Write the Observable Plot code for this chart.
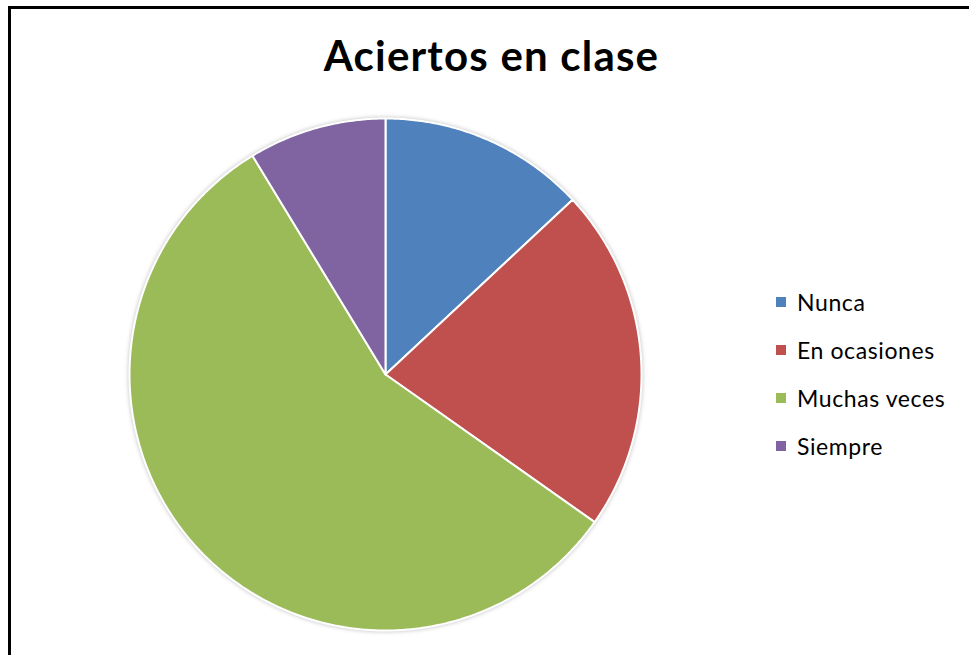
<!DOCTYPE html>
<html>
<head>
<meta charset="utf-8">
<script src="https://cdn.jsdelivr.net/npm/d3@7"></script>
<script src="https://cdn.jsdelivr.net/npm/@observablehq/plot@0.6"></script>
<style>
  html, body { margin: 0; padding: 0; background: #fff; }
  #wrap { position: relative; width: 969px; height: 655px; overflow: hidden; background: #fff; }
  #frame { position: absolute; left: 8px; top: 6px; width: 1000px; height: 700px; border: 3px solid #000; box-sizing: border-box; }
  #title { position: absolute; left: 0; width: 983px; top: 34px; text-align: center; font-family: Lato, sans-serif; font-weight: bold; font-size: 42px; line-height: 42px; letter-spacing: 1.2px; color: #000; }
  #legend { position: absolute; left: 776px; top: 0; font-family: Lato, sans-serif; font-size: 23px; letter-spacing: 0.6px; color: #000; }
  .item { position: absolute; white-space: nowrap; display: flex; align-items: center; height: 30px; }
  .sw { width: 10px; height: 10px; margin-right: 11px; }
  #chart { position: absolute; left: 0; top: 0; }
</style>
</head>
<body>
<div id="wrap">
  <div id="frame"></div>
  <div id="chart"></div>
  <div id="title">Aciertos en clase</div>
  <div id="legend"></div>
</div>
<script>
const categories = ["Nunca", "En ocasiones", "Muchas veces", "Siempre"];
const values = [3, 5, 13, 2];
const colors = ["#4F81BD", "#C0504D", "#9BBB59", "#8064A2"];

const slices = d3.pie().sort(null).value(d => d.value)(
  categories.map((name, i) => ({name, value: values[i]}))
);

// Build slice outlines (center -> arc -> center) in unit coordinates
const pts = [];
for (const s of slices) {
  const name = s.data.name;
  pts.push({name, x: 0, y: 0});
  const n = Math.max(2, Math.ceil((s.endAngle - s.startAngle) / (Math.PI / 360)));
  for (let k = 0; k <= n; k++) {
    const a = s.startAngle + (s.endAngle - s.startAngle) * k / n;
    pts.push({name, x: Math.sin(a), y: Math.cos(a)});
  }
  pts.push({name, x: 0, y: 0});
}

const chart = Plot.plot({
  width: 969,
  height: 655,
  x: {domain: [-1, 1], range: [129, 641], axis: null},
  y: {domain: [-1, 1], range: [630, 118], axis: null},
  color: {domain: categories, range: colors},
  marks: [
    Plot.line(pts, {x: "x", y: "y", z: "name", fill: "name", stroke: "white", strokeWidth: 2, strokeLinejoin: "round", curve: "linear"})
  ]
});
chart.style.filter = "drop-shadow(0px 0px 2px rgba(0,0,0,0.25))";
document.getElementById("chart").appendChild(chart);

const legend = document.getElementById("legend");
const legendY = [302, 350, 398, 446];
categories.forEach((c, i) => {
  const it = document.createElement("div");
  it.className = "item";
  it.style.top = (legendY[i] - 15) + "px";
  it.innerHTML = `<span class="sw" style="background:${colors[i]}"></span><span>${c}</span>`;
  legend.appendChild(it);
});
</script>
</body>
</html>
